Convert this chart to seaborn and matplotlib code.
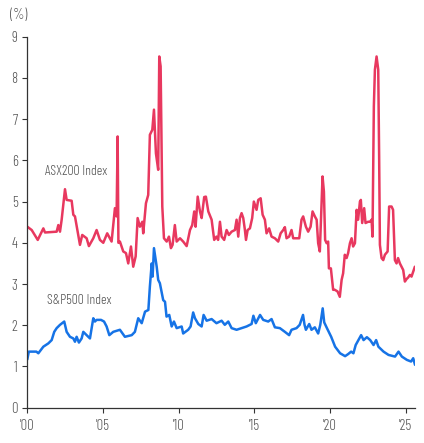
import pandas as pd
import matplotlib.pyplot as plt
import seaborn as sns

# ASX200 Index (%)
asx_year = [2000.00, 2000.29, 2000.69, 2001.06, 2001.17, 2001.94, 2002.05, 2002.16, 2002.27, 2002.49,
            2002.60, 2002.93, 2003.04, 2003.15, 2003.48, 2003.63, 2003.92, 2004.07, 2004.36, 2004.58,
            2004.80, 2005.02, 2005.28, 2005.57, 2005.79, 2005.90, 2005.97, 2006.02, 2006.12, 2006.34,
            2006.52, 2006.67, 2006.85, 2007.00, 2007.16, 2007.29, 2007.44, 2007.60, 2007.66, 2007.84,
            2007.99, 2008.10, 2008.26, 2008.37, 2008.50, 2008.65, 2008.72, 2008.81, 2008.92, 2009.03,
            2009.21, 2009.36, 2009.49, 2009.60, 2009.75, 2009.87, 2010.09, 2010.30, 2010.53, 2010.75,
            2010.90, 2011.03, 2011.12, 2011.26, 2011.41, 2011.52, 2011.69, 2011.80, 2011.96, 2012.18,
            2012.35, 2012.50, 2012.61, 2012.73, 2012.84, 2013.01, 2013.17, 2013.32, 2013.50, 2013.72,
            2013.83, 2013.94, 2014.05, 2014.16, 2014.27, 2014.38, 2014.45, 2014.56, 2014.71, 2014.86,
            2014.97, 2015.04, 2015.15, 2015.26, 2015.42, 2015.55, 2015.70, 2015.81, 2015.98, 2016.14,
            2016.36, 2016.58, 2016.74, 2016.91, 2017.02, 2017.13, 2017.30, 2017.46, 2017.57, 2017.79,
            2017.97, 2018.12, 2018.23, 2018.41, 2018.56, 2018.72, 2018.85, 2019.00, 2019.12, 2019.22,
            2019.33, 2019.45, 2019.51, 2019.60, 2019.68, 2019.78, 2019.88, 2019.93, 2020.06, 2020.21,
            2020.32, 2020.50, 2020.65, 2020.77, 2020.87, 2020.98, 2021.10, 2021.20, 2021.32, 2021.43,
            2021.53, 2021.65, 2021.76, 2021.86, 2021.98, 2022.04, 2022.13, 2022.26, 2022.35, 2022.52,
            2022.64, 2022.75, 2022.81, 2022.90, 2022.97, 2023.08, 2023.19, 2023.25, 2023.30, 2023.41,
            2023.52, 2023.63, 2023.81, 2023.91, 2024.07, 2024.17, 2024.29, 2024.40, 2024.50, 2024.62,
            2024.73, 2024.84, 2024.95, 2025.06, 2025.17, 2025.28, 2025.39, 2025.50, 2025.61]
asx_val = [4.39, 4.31, 4.07, 4.35, 4.25, 4.27, 4.43, 4.27, 4.56, 5.30,
           5.04, 5.02, 4.68, 4.64, 3.95, 4.19, 4.11, 3.92, 4.11, 4.31,
           4.07, 4.00, 4.23, 4.03, 4.84, 4.64, 6.58, 4.00, 4.03, 3.79,
           3.75, 3.50, 3.91, 3.42, 3.67, 4.60, 4.39, 4.51, 4.23, 4.96,
           5.16, 6.62, 6.74, 7.23, 6.17, 5.77, 8.52, 8.28, 4.88, 4.11,
           4.03, 4.15, 3.87, 3.95, 4.43, 4.03, 4.11, 4.03, 3.92, 4.31,
           4.43, 4.76, 4.39, 5.12, 4.76, 4.60, 5.11, 5.12, 4.76, 4.56,
           4.07, 4.15, 4.07, 4.51, 4.15, 4.07, 4.31, 4.19, 4.27, 4.31,
           4.56, 4.15, 4.60, 4.72, 4.60, 4.31, 4.07, 4.31, 4.35, 4.60,
           5.00, 4.92, 4.80, 5.04, 5.08, 4.68, 4.56, 4.23, 4.35, 4.15,
           4.11, 4.03, 4.23, 4.31, 4.38, 4.11, 4.15, 4.31, 4.11, 4.11,
           4.11, 4.56, 4.64, 4.39, 4.27, 4.39, 4.76, 4.64, 4.56, 3.99,
           3.79, 5.04, 5.61, 5.24, 4.07, 3.99, 4.03, 3.38, 3.38, 2.86,
           2.86, 2.82, 2.69, 3.10, 3.26, 3.71, 3.63, 3.75, 3.99, 4.11,
           3.91, 3.99, 4.80, 4.56, 5.00, 5.04, 4.48, 4.84, 4.48, 4.51,
           4.51, 4.56, 4.15, 7.31, 8.20, 8.52, 8.20, 6.09, 3.95, 3.63,
           3.58, 3.71, 3.79, 4.88, 4.88, 4.80, 3.58, 3.50, 3.63, 3.50,
           3.42, 3.34, 3.06, 3.12, 3.16, 3.22, 3.18, 3.30, 3.42]

# S&P500 Index (%)
spx_year = [2000.00, 2000.10, 2000.60, 2000.73, 2001.06, 2001.39, 2001.61, 2001.78, 2001.94, 2002.16,
            2002.44, 2002.60, 2002.82, 2003.04, 2003.15, 2003.26, 2003.41, 2003.59, 2003.70, 2003.92,
            2004.14, 2004.36, 2004.47, 2004.58, 2004.87, 2005.07, 2005.24, 2005.42, 2005.68, 2006.12,
            2006.45, 2006.90, 2007.11, 2007.33, 2007.56, 2007.78, 2008.00, 2008.10, 2008.22, 2008.28,
            2008.37, 2008.55, 2008.65, 2008.76, 2008.98, 2009.10, 2009.20, 2009.38, 2009.54, 2009.69,
            2009.87, 2010.20, 2010.30, 2010.63, 2010.79, 2010.96, 2011.08, 2011.30, 2011.52, 2011.65,
            2011.85, 2012.18, 2012.50, 2012.84, 2013.05, 2013.28, 2013.50, 2013.83, 2014.16, 2014.49,
            2014.82, 2014.94, 2015.10, 2015.38, 2015.59, 2015.92, 2016.14, 2016.36, 2016.69, 2017.02,
            2017.30, 2017.46, 2017.79, 2018.00, 2018.22, 2018.32, 2018.41, 2018.63, 2018.78, 2019.00,
            2019.22, 2019.36, 2019.52, 2019.62, 2019.80, 2020.08, 2020.34, 2020.67, 2021.00, 2021.20,
            2021.40, 2021.55, 2021.70, 2021.88, 2022.06, 2022.22, 2022.44, 2022.66, 2022.88, 2023.05,
            2023.20, 2023.54, 2023.87, 2024.30, 2024.53, 2024.75, 2025.08, 2025.36, 2025.50, 2025.62]
spx_val = [1.17, 1.36, 1.36, 1.32, 1.48, 1.56, 1.64, 1.84, 1.93, 2.01,
           2.09, 1.84, 1.72, 1.68, 1.60, 1.72, 1.58, 1.68, 1.84, 1.76,
           1.68, 2.17, 2.09, 2.13, 2.13, 2.09, 1.97, 1.76, 1.84, 1.89,
           1.72, 1.76, 1.84, 2.17, 2.05, 2.33, 2.37, 2.94, 3.50, 3.18,
           3.87, 3.42, 3.10, 3.02, 2.61, 2.57, 2.21, 2.25, 1.97, 2.09,
           1.93, 1.97, 1.80, 1.89, 1.97, 2.31, 2.17, 2.03, 1.97, 2.25,
           2.11, 2.15, 2.05, 2.11, 2.01, 2.09, 1.93, 1.89, 1.93, 1.97,
           2.03, 2.23, 2.05, 2.25, 2.13, 2.09, 2.15, 1.95, 1.93, 1.84,
           1.76, 1.89, 1.93, 2.01, 2.25, 2.01, 1.89, 2.03, 1.89, 1.95,
           1.80, 2.01, 2.41, 2.07, 1.93, 1.72, 1.48, 1.32, 1.25, 1.30,
           1.36, 1.32, 1.52, 1.64, 1.76, 1.64, 1.71, 1.64, 1.52, 1.64,
           1.48, 1.36, 1.28, 1.24, 1.36, 1.24, 1.16, 1.12, 1.20, 1.04]

x_ticks = [2000, 2005, 2010, 2015, 2020, 2025]
x_labels = ["'00", "'05", "'10", "'15", "'20", "'25"]
y_ticks = list(range(0, 10))

red = '#e8385f'
blue = '#1673e6'
grey = '#555555'

sns.set_style('ticks')
# condensed light sans like the original
plt.rcParams['font.family'] = ['Barlow Condensed', 'Archivo Narrow', 'Liberation Sans', 'DejaVu Sans']
plt.rcParams['font.weight'] = 300

asx = pd.DataFrame({'year': asx_year, 'value': asx_val})
spx = pd.DataFrame({'year': spx_year, 'value': spx_val})

fig = plt.figure(figsize=(4.24, 4.43), dpi=100)
ax = fig.add_axes([0.0644, 0.0797, 0.9144, 0.8375])

sns.lineplot(data=asx, x='year', y='value', color=red, linewidth=1.8, ax=ax)
sns.lineplot(data=spx, x='year', y='value', color=blue, linewidth=1.8, ax=ax)

ax.set_xlim(2000, 2025.62)
ax.set_ylim(0, 9)
ax.set_xticks(x_ticks)
ax.set_xticklabels(x_labels)
ax.set_yticks(y_ticks)
ax.set_xlabel('')
ax.set_ylabel('')
ax.tick_params(axis='both', labelsize=10.5, labelcolor=grey, color='#333333', length=3.5, width=0.8)
ax.tick_params(axis='x', pad=4.5)
ax.tick_params(axis='y', pad=3.5)
sns.despine(ax=ax)
for s in ['left', 'bottom']:
    ax.spines[s].set_color('#333333')
    ax.spines[s].set_linewidth(0.9)

ax.text(2001.17, 5.72, 'ASX200 Index', fontsize=10, color=grey, ha='left', va='center')
ax.text(2001.28, 2.6, 'S&P500 Index', fontsize=10, color=grey, ha='left', va='center')
fig.text(10 / 424, 1 - 15 / 443, '(%)', fontsize=10.5, color=grey, ha='left', va='center')

fig.savefig('out.png', dpi=100)
